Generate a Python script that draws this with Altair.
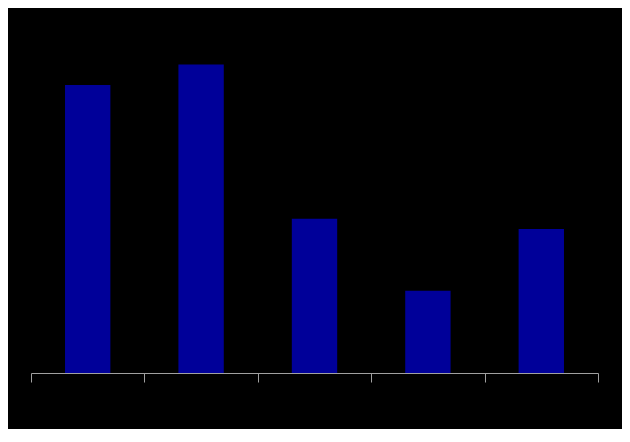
import altair as alt
import pandas as pd

categories = ["A", "B", "C", "D", "E"]
values = [28, 30, 15, 8, 14]

df = pd.DataFrame({"category": categories, "value": values})

chart = alt.Chart(df).mark_bar(color="#000099", width=alt.RelativeBandSize(0.4)).encode(
    x=alt.X("category:N", sort=categories,
            scale=alt.Scale(paddingInner=0, paddingOuter=0),
            axis=alt.Axis(title=None, labels=False, domainColor="#a0a0a0",
                          tickColor="#a0a0a0", tickSize=9, tickBand="extent",
                          domainWidth=1, tickWidth=1)),
    y=alt.Y("value:Q", scale=alt.Scale(domain=[0, 35], nice=False),
            axis=None),
).properties(
    width=567, height=360,
    background="black",
    autosize=alt.AutoSizeParams(type="none"),
    padding={"left": 23, "top": 5, "right": 24, "bottom": 56},
).configure_view(stroke=None)

chart.save("out.html", embed_options={"renderer": "svg", "actions": False})
